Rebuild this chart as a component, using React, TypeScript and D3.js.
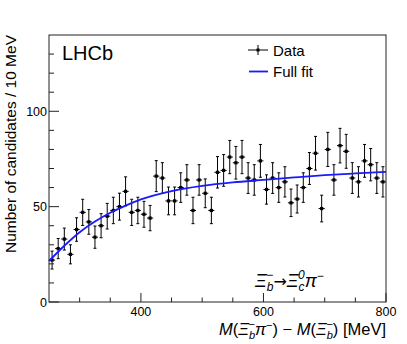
import React from 'react';
import * as d3 from 'd3';

// bin centres (10 MeV bins from 250 to 800)
const binCentres = d3.range(255, 800, 10);
// candidates per bin
const counts = [
  22, 28, 33, 25, 38, 47, 42, 34, 40, 45, 48, 50, 58, 47, 48, 46, 44, 66, 65, 53,
  53, 60, 64, 48, 64, 57, 48, 68, 69, 76, 73, 76, 65, 64, 74, 59, 65, 60, 63, 52,
  54, 60, 70, 78, 49, 80, 64, 82, 79, 65, 63, 74, 72, 65, 63,
];
// full fit curve, sampled off the plot
const fitMass = [250, 275, 300, 325, 350, 375, 400, 450, 500, 550, 600, 650, 700, 750, 800];
const fitValue = [21.5, 29.5, 36.6, 42.2, 46.8, 50.5, 53.8, 58.2, 60.9, 62.7, 64.0, 65.3, 66.5, 67.4, 68.2];

const xMajor = [400, 600, 800];
const xMinor = [300, 350, 450, 500, 550, 650, 700, 750];
const yMajor = [0, 50, 100];
const yMinor = [10, 20, 30, 40, 60, 70, 80, 90, 110, 120, 130];

const W = 407;
const H = 344;
const margin = { left: 49, right: 21, top: 35, bottom: 42 };
const font = '"Liberation Sans", Arial, sans-serif';

export default function App() {
  const x = d3.scaleLinear().domain([250, 800]).range([margin.left, W - margin.right]);
  const y = d3.scaleLinear().domain([0, 140]).range([H - margin.bottom, margin.top]);
  const x0 = x.range()[0];
  const x1 = x.range()[1];
  const y0 = y.range()[0];
  const y1 = y.range()[1];

  const fitLine = d3
    .line<number>()
    .x((_, i) => x(fitMass[i]))
    .y((d) => y(d))
    .curve(d3.curveMonotoneX)(fitValue);

  const data = binCentres.map((c, i) => ({ c, n: counts[i], e: Math.sqrt(counts[i]) }));
  const half = 5;

  return (
    <svg width={W} height={H} style={{ position: 'absolute', left: 0, top: 0 }} fontFamily={font}>
      <rect width={W} height={H} fill="#fff" />
      {/* data points */}
      <g stroke="#000" strokeWidth={1}>
        {data.map((d) => (
          <g key={d.c}>
            <line x1={x(d.c)} x2={x(d.c)} y1={y(d.n - d.e)} y2={y(d.n + d.e)} />
            <line x1={x(d.c) - 1.5} x2={x(d.c) + 1.5} y1={y(d.n - d.e)} y2={y(d.n - d.e)} />
            <line x1={x(d.c) - 1.5} x2={x(d.c) + 1.5} y1={y(d.n + d.e)} y2={y(d.n + d.e)} />
            <line x1={x(d.c - half)} x2={x(d.c + half)} y1={y(d.n)} y2={y(d.n)} />
            <rect x={x(d.c) - 1.6} y={y(d.n) - 1.6} width={3.2} height={3.2} fill="#000" stroke="none" />
          </g>
        ))}
      </g>
      {/* fit */}
      <path d={fitLine ?? ''} fill="none" stroke="#1a1aff" strokeWidth={1.8} />

      {/* frame */}
      <rect x={x0} y={y1} width={x1 - x0} height={y0 - y1} fill="none" stroke="#222" strokeWidth={1} />
      {/* ticks */}
      <g stroke="#222" strokeWidth={1}>
        {xMajor.map((t) => (
          <line key={t} x1={x(t)} x2={x(t)} y1={y0} y2={y0 - 9} />
        ))}
        {xMinor.map((t) => (
          <line key={t} x1={x(t)} x2={x(t)} y1={y0} y2={y0 - 4.5} />
        ))}
        {yMajor.map((t) => (
          <line key={t} x1={x0} x2={x0 + 10} y1={y(t)} y2={y(t)} />
        ))}
        {yMinor.map((t) => (
          <line key={t} x1={x0} x2={x0 + 5} y1={y(t)} y2={y(t)} />
        ))}
      </g>
      <g fontSize={12.5} fill="#000">
        {xMajor.map((t) => (
          <text key={t} x={x(t)} y={y0 + 13.5} textAnchor="middle">
            {t}
          </text>
        ))}
        {yMajor.map((t) => (
          <text key={t} x={x0 - 2} y={y(t) + 4.5} textAnchor="end">
            {t}
          </text>
        ))}
      </g>

      {/* axis titles */}
      <text x={x1} y={334.5} fontSize={16.5} textAnchor="end">
        <tspan fontStyle="italic">M</tspan>(<tspan fontStyle="italic">Ξ</tspan>
        <tspan fontSize={11} fontStyle="italic" dy={4}>b</tspan>
        <tspan fontSize={11} dx={-6.5} dy={-11}>−</tspan>
        <tspan fontStyle="italic" dy={7}>π</tspan>
        <tspan fontSize={11} dy={-6}>−</tspan>
        <tspan dy={6}>) − </tspan>
        <tspan fontStyle="italic">M</tspan>(<tspan fontStyle="italic">Ξ</tspan>
        <tspan fontSize={11} fontStyle="italic" dy={4}>b</tspan>
        <tspan fontSize={11} dx={-6.5} dy={-11}>−</tspan>
        <tspan dy={7}>) [MeV]</tspan>
      </text>
      <text transform={`translate(15.5,${y1}) rotate(-90)`} fontSize={15.5} textAnchor="end">
        Number of candidates / 10 MeV
      </text>

      {/* LHCb label */}
      <text x={62} y={60} fontSize={20}>
        LHCb
      </text>

      {/* legend */}
      <g stroke="#000" strokeWidth={1}>
        <line x1={248} x2={268} y1={50} y2={50} />
        <line x1={258} x2={258} y1={45} y2={55} />
        <rect x={256.5} y={48.5} width={3} height={3} fill="#000" stroke="none" />
      </g>
      <line x1={249} x2={268} y1={71.5} y2={71.5} stroke="#1a1aff" strokeWidth={1.8} />
      <text x={273} y={55.5} fontSize={15}>
        Data
      </text>
      <text x={273} y={77} fontSize={15}>
        Full fit
      </text>

      {/* decay label */}
      <text x={255} y={287} fontSize={18}>
        <tspan fontStyle="italic">Ξ</tspan>
        <tspan fontSize={12} fontStyle="italic" dy={4}>b</tspan>
        <tspan fontSize={12} dx={-7} dy={-12}>−</tspan>
        <tspan dy={8} fontFamily="DejaVu Sans" fontSize={16}>→</tspan>
        <tspan fontStyle="italic">Ξ</tspan>
        <tspan fontSize={12} fontStyle="italic" dy={4}>c</tspan>
        <tspan fontSize={12} fontStyle="italic" dx={-6.5} dy={-12}>0</tspan>
        <tspan fontStyle="italic" dy={8}>π</tspan>
        <tspan fontSize={12} dy={-7}>−</tspan>
      </text>
    </svg>
  );
}
